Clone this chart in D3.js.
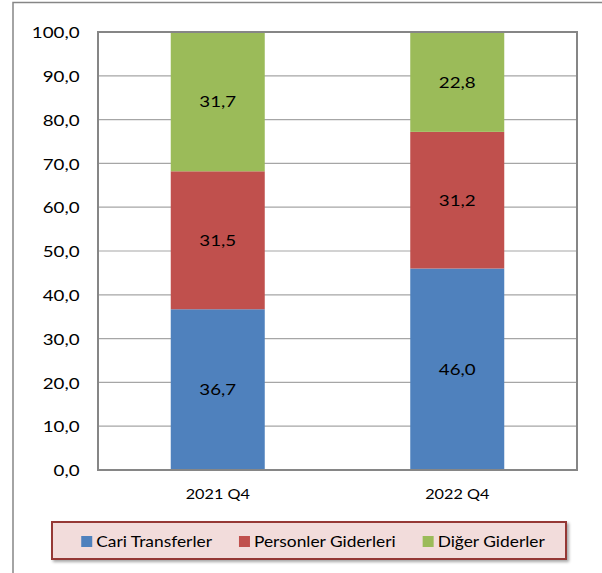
<!DOCTYPE html>
<html>
<head>
<meta charset="utf-8">
<script src="https://cdn.jsdelivr.net/npm/d3@7"></script>
<style>
  html, body { margin: 0; padding: 0; background: #fff; }
  svg { display: block; }
  text { font-family: Lato, "Noto Sans", sans-serif; fill: #000; font-weight: 400; }
</style>
</head>
<body>
<script>
// ---- data ----
const categories = ["2021 Q4", "2022 Q4"];
const seriesNames = ["Cari Transferler", "Personler Giderleri", "Diğer Giderler"];
const cariTransferler = [36.7, 46.0];
const personelGiderleri = [31.5, 31.2];
const digerGiderler = [31.7, 22.8];
const yTicks = [0, 10, 20, 30, 40, 50, 60, 70, 80, 90, 100];
const colors = ["#4f81bd", "#c0504d", "#9bbb59"];

const W = 602, H = 573;
const svg = d3.select("body").append("svg").attr("width", W).attr("height", H);

const defs = svg.append("defs");
const f = defs.append("filter").attr("id", "shadow").attr("x", "-5%").attr("y", "-20%").attr("width", "115%").attr("height", "160%");
f.append("feDropShadow").attr("dx", 2).attr("dy", 2).attr("stdDeviation", 1.5).attr("flood-color", "#000").attr("flood-opacity", 0.35);

// outer frame (cut off at right/bottom)
svg.append("path").attr("d", `M13,${H + 5} L13,2.5 L${W + 5},2.5`)
  .attr("fill", "none").attr("stroke", "#868686").attr("stroke-width", 1.5);

const plot = { left: 98, right: 577, top: 32, bottom: 470 };
const y = d3.scaleLinear().domain([0, 100]).range([plot.bottom, plot.top]);
const x = d3.scaleBand().domain(categories).range([plot.left, plot.right])
  .paddingInner(0.6075).paddingOuter(0.30375);

function label(g, px, py, str, size, anchor, sx) {
  const t = g.append("g").attr("transform", `translate(${px},${py}) scale(${sx},1)`);
  return t.append("text").attr("text-anchor", anchor).attr("dy", "0.35em")
    .style("font-size", size + "px").text(str);
}
const fmt = v => d3.format(".1f")(v).replace(".", ",");

// gridlines
svg.append("g").selectAll("line").data(yTicks.filter(v => v > 0 && v < 100)).join("line")
  .attr("x1", plot.left).attr("x2", plot.right)
  .attr("y1", d => y(d)).attr("y2", d => y(d))
  .attr("stroke", "#a6a6a6").attr("stroke-width", 1.2);

// stacked bars
const rows = categories.map((c, i) => ({ cat: c, s0: cariTransferler[i], s1: personelGiderleri[i], s2: digerGiderler[i] }));
const stack = d3.stack().keys(["s0", "s1", "s2"])(rows);
const gBars = svg.append("g");
stack.forEach((layer, li) => {
  gBars.append("g").attr("fill", colors[li]).selectAll("rect").data(layer).join("rect")
    .attr("x", d => x(d.data.cat)).attr("width", x.bandwidth())
    .attr("y", d => y(d[1])).attr("height", d => y(d[0]) - y(d[1]));
});

// plot border
svg.append("rect").attr("x", plot.left).attr("y", plot.top)
  .attr("width", plot.right - plot.left).attr("height", plot.bottom - plot.top)
  .attr("fill", "none").attr("stroke", "#868686").attr("stroke-width", 2);

// data labels
const gLab = svg.append("g");
stack.forEach(layer => {
  layer.forEach(d => {
    const v = d[1] - d[0];
    label(gLab, x(d.data.cat) + x.bandwidth() / 2, y((d[0] + d[1]) / 2), fmt(v), 16, "middle", 1.17);
  });
});

// y tick labels
const gY = svg.append("g");
yTicks.forEach(v => label(gY, 79.5, y(v) + 0.5, fmt(v), 16, "end", 1.17));

// x labels
const gX = svg.append("g");
categories.forEach(c => label(gX, x(c) + x.bandwidth() / 2, 494.5, c, 14, "middle", 1.16));

// legend
const lg = { x: 52, y: 522, w: 514, h: 37 };
svg.append("rect").attr("x", lg.x).attr("y", lg.y).attr("width", lg.w).attr("height", lg.h)
  .attr("fill", "#f2dcdb").attr("stroke", "#953735").attr("stroke-width", 2)
  .attr("filter", "url(#shadow)");
const gL = svg.append("g");
const sxL = 1.12;
const items = seriesNames.map((n, i) => {
  const g = gL.append("g");
  g.append("rect").attr("width", 11).attr("height", 11).attr("y", -5.5).attr("fill", colors[i]);
  const t = label(g, 15, 0, n, 15.5, "start", sxL);
  return { g, w: 15 + t.node().getComputedTextLength() * sxL };
});
const gap = 27;
const total = d3.sum(items, d => d.w) + gap * (items.length - 1);
let cx = lg.x + lg.w / 2 - total / 2 + 4;
items.forEach(it => { it.g.attr("transform", `translate(${cx},${lg.y + lg.h / 2 + 1})`); cx += it.w + gap; });
</script>
</body>
</html>
